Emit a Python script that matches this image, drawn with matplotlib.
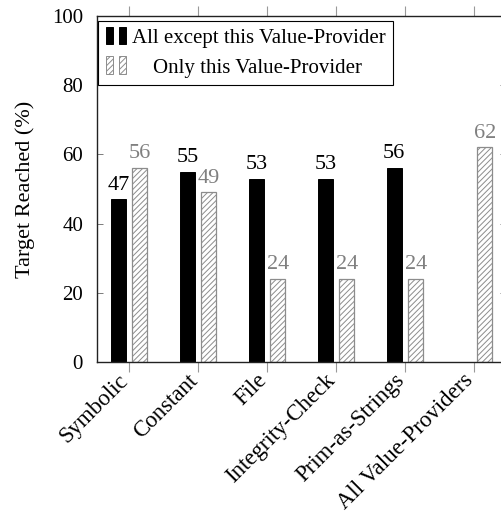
import matplotlib.pyplot as plt
from matplotlib.patches import Rectangle
from matplotlib.transforms import ScaledTranslation
import numpy as np

plt.rcParams['font.family'] = ['Liberation Serif', 'DejaVu Serif']
plt.rcParams['hatch.linewidth'] = 0.7
plt.rcParams['hatch.color'] = '#808080'

categories = ['Symbolic', 'Constant', 'File', 'Integrity-Check',
              'Prim-as-Strings', 'All Value-Providers']
all_except = [47, 55, 53, 53, 56, None]
only_this = [56, 49, 24, 24, 24, 62]
series_names = ['All except this Value-Provider', 'Only this Value-Provider']


class TwoBarHandler:
    """Legend entry drawn as two small bars, like pgfplots ybar legends."""

    def legend_artist(self, legend, orig_handle, fontsize, handlebox):
        x0, y0 = handlebox.xdescent, handlebox.ydescent
        w, h = handlebox.width, handlebox.height
        bw = 0.36 * w
        rect = None
        for dx in (0, w - bw):
            rect = Rectangle((x0 + dx, y0 - 0.1 * h), bw, 1.1 * h,
                             facecolor=orig_handle.get_facecolor(),
                             edgecolor=orig_handle.get_edgecolor(),
                             hatch=orig_handle.get_hatch(), linewidth=0.7,
                             transform=handlebox.get_transform())
            handlebox.add_artist(rect)
        return rect


fig = plt.figure(figsize=(5.01, 5.15), dpi=100)
ax = fig.add_axes([97 / 501, 1 - 362 / 515, 409 / 501, 346 / 515])

x = np.arange(len(categories))
width = 0.22
offset = 0.155

for i, v in enumerate(all_except):
    if v is None:
        continue
    ax.bar(x[i] - offset, v, width, color='black', edgecolor='black',
           linewidth=0.7, zorder=2)
    ax.text(x[i] - offset, v + 1.4, f'{v}', ha='center', va='bottom',
            fontsize=16, color='black')

for i, v in enumerate(only_this):
    ax.bar(x[i] + offset, v, width, facecolor='white', edgecolor='#8c8c8c',
           hatch='//////', linewidth=0.9, zorder=2)
    ax.text(x[i] + offset, v + 1.4, f'{v}', ha='center', va='bottom',
            fontsize=16, color='#808080')

ax.set_xlim(-0.464, len(categories) - 1 + 0.464)
ax.set_ylim(0, 100)
ax.set_yticks(np.arange(0, 101, 20))
ax.set_ylabel('Target Reached (%)', fontsize=16, labelpad=12)
ax.set_xticks(x)
ax.tick_params(axis='x', direction='out', length=7, width=0.8,
               color='#999999', top=True, pad=3)
ax.tick_params(axis='y', direction='in', length=4, width=0.6,
               color='#666666', right=True, labelsize=15, pad=10)
ax.set_xticklabels(categories, rotation=45, ha='right',
                   rotation_mode='anchor', fontsize=16.5)
# nudge the rotated labels so their ends sit just left of each tick
for lbl in ax.get_xticklabels():
    lbl.set_transform(lbl.get_transform() +
                      ScaledTranslation(-11 / 100, 6 / 100, fig.dpi_scale_trans))
for s in ax.spines.values():
    s.set_linewidth(1.0)
    s.set_color('#222222')

handles = [Rectangle((0, 0), 1, 1, facecolor='black', edgecolor='black'),
           Rectangle((0, 0), 1, 1, facecolor='white', edgecolor='#8c8c8c',
                     hatch='//////')]
labels = [series_names[0], '    ' + series_names[1]]
leg = ax.legend(handles, labels, loc='upper left',
                bbox_to_anchor=(0.003, 0.986), borderaxespad=0,
                handler_map={Rectangle: TwoBarHandler()},
                fontsize=15, frameon=True, fancybox=False, framealpha=1,
                edgecolor='black', handlelength=1.0, handleheight=0.8,
                handletextpad=0.25, labelspacing=0.45, borderpad=0.35)
leg.get_frame().set_linewidth(0.8)

fig.savefig('out.png', dpi=100)
